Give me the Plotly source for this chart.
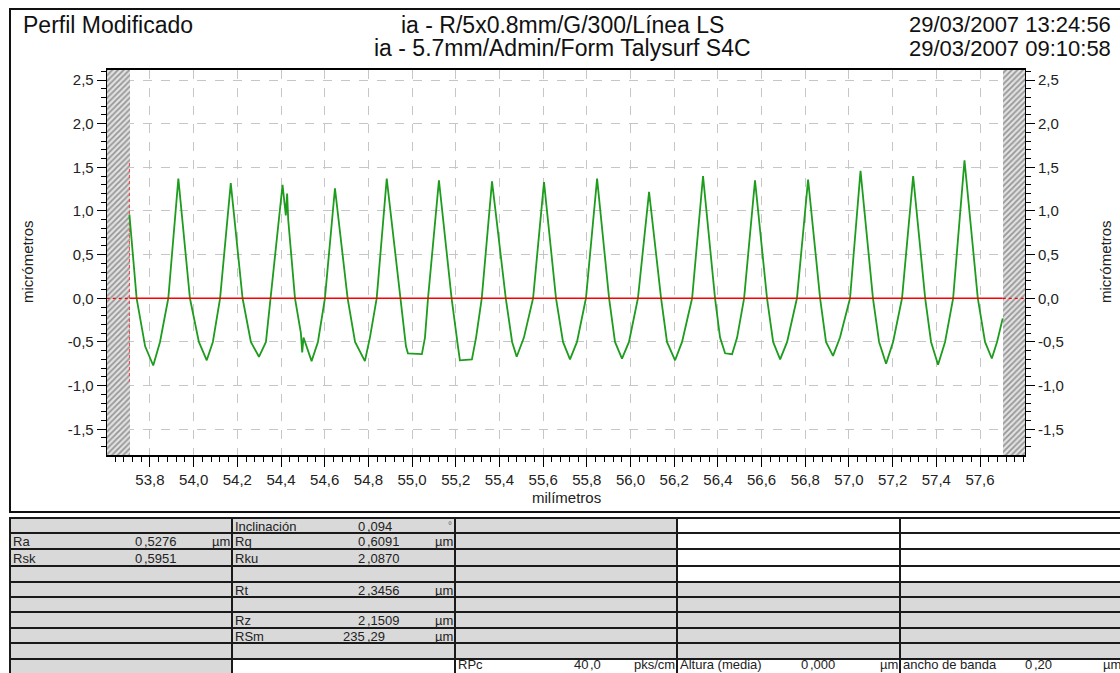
import plotly.graph_objects as go

W, H = 1120, 673

# ---------------- data ----------------
PROFILE_X_MM = [
    53.706, 53.739, 53.778, 53.815, 53.846, 53.884,
    53.930, 53.983, 54.024, 54.060, 54.088, 54.121,
    54.170, 54.224, 54.262, 54.299, 54.331, 54.353,
    54.407, 54.422, 54.428, 54.433, 54.464, 54.491, 54.497, 54.503, 54.540, 54.569, 54.601,
    54.647, 54.705, 54.739, 54.784, 54.807, 54.838,
    54.884, 54.945, 54.972, 54.981, 55.045, 55.059, 55.073,
    55.123, 55.181, 55.210, 55.219, 55.274, 55.293, 55.319,
    55.366, 55.429, 55.458, 55.479, 55.512, 55.554,
    55.604, 55.659, 55.691, 55.723, 55.755, 55.796,
    55.847, 55.902, 55.929, 55.961, 55.993, 56.034,
    56.085, 56.140, 56.167, 56.204, 56.236, 56.282,
    56.332, 56.387, 56.410, 56.433, 56.465, 56.488, 56.520,
    56.570, 56.625, 56.653, 56.685, 56.717, 56.762,
    56.813, 56.868, 56.895, 56.927, 56.959, 57.005,
    57.053, 57.110, 57.138, 57.170, 57.202, 57.243,
    57.294, 57.349, 57.376, 57.408, 57.440, 57.477,
    57.529, 57.590, 57.623, 57.654, 57.678, 57.704,
]
PROFILE_Z_UM = [
    0.96, 0.00, -0.55, -0.77, -0.50, 0.00,
    1.37, 0.00, -0.50, -0.71, -0.50, 0.00,
    1.32, 0.00, -0.50, -0.67, -0.50, 0.00,
    1.30, 0.95, 1.20, 0.90, 0.00, -0.40, -0.62, -0.45, -0.72, -0.50, 0.00,
    1.26, 0.00, -0.50, -0.72, -0.45, 0.00,
    1.37, 0.00, -0.55, -0.63, -0.64, -0.45, 0.00,
    1.35, 0.00, -0.55, -0.71, -0.70, -0.45, 0.00,
    1.34, 0.00, -0.50, -0.67, -0.45, 0.00,
    1.33, 0.00, -0.50, -0.70, -0.50, 0.00,
    1.37, 0.00, -0.50, -0.69, -0.50, 0.00,
    1.22, 0.00, -0.50, -0.71, -0.50, 0.00,
    1.40, 0.00, -0.45, -0.63, -0.64, -0.45, 0.00,
    1.35, 0.00, -0.50, -0.70, -0.50, 0.00,
    1.36, 0.00, -0.50, -0.66, -0.45, 0.00,
    1.46, 0.00, -0.50, -0.75, -0.50, 0.00,
    1.40, 0.00, -0.50, -0.76, -0.50, 0.00,
    1.58, 0.00, -0.50, -0.69, -0.50, -0.23,
]

EVAL_START_MM = 53.706
EVAL_END_MM = 57.704
VIEW_START_MM = 53.602
VIEW_END_MM = 57.806
MEAN_LINE_UM = 0.0
Z_MIN, Z_MAX = -1.795, 2.615
MARKER_TOP_UM, MARKER_BOTTOM_UM = 1.55, -0.95

X_TICKS = [53.8, 54.0, 54.2, 54.4, 54.6, 54.8, 55.0, 55.2, 55.4, 55.6,
           55.8, 56.0, 56.2, 56.4, 56.6, 56.8, 57.0, 57.2, 57.4, 57.6]
X_TICK_LABELS = ["53,8", "54,0", "54,2", "54,4", "54,6", "54,8", "55,0", "55,2", "55,4", "55,6",
                 "55,8", "56,0", "56,2", "56,4", "56,6", "56,8", "57,0", "57,2", "57,4", "57,6"]
Y_TICKS = [-1.5, -1.0, -0.5, 0.0, 0.5, 1.0, 1.5, 2.0, 2.5]
Y_TICK_LABELS = ["-1,5", "-1,0", "-0,5", "0,0", "0,5", "1,0", "1,5", "2,0", "2,5"]

TITLE_LEFT = "Perfil Modificado"
TITLE_MID = ["ia - R/5x0.8mm/G/300/Línea LS", "ia - 5.7mm/Admin/Form Talysurf S4C"]
TITLE_DATES = ["29/03/2007 13:24:56", "29/03/2007 09:10:58"]

PARAM_NAMES = ["Inclinación", "Ra", "Rq", "Rsk", "Rku", "Rt", "Rz", "RSm",
               "RPc", "Altura (media)", "ancho de banda"]
PARAM_VALUES = ["0,094", "0,5276", "0,6091", "0,5951", "2,0870", "2,3456", "2,1509", "235,29",
                "40,0", "0,000", "0,20"]
PARAM_UNITS = ["°", "µm", "µm", "", "", "µm", "µm", "µm", "pks/cm", "µm", "µm"]
PARAM_COL = [1, 0, 1, 0, 1, 1, 1, 1, 2, 3, 4]
PARAM_ROW = [0, 1, 1, 2, 2, 4, 6, 7, 9, 9, 9]

# ---------------- layout geometry (pixels) ----------------
FONT = "Liberation Sans, Arial, sans-serif"
TXT = "#222222"
GRAY = "#d9d9d9"
PLOT_L, PLOT_R, PLOT_T, PLOT_B = 106.7, 1025.0, 70.0, 455.0
COL_X = [10, 232, 455, 677, 900, 1123]
ROW_Y = [518, 533, 549, 566, 582, 597, 612, 628, 643, 659, 676]
COMMA_X = [143, 366, 589, 809, 1033]


def fx(px):
    return px / W


def fy(py):
    return 1 - py / H


def cell_gray(c, r):
    if c == 0:
        return True
    if c in (1, 2):
        return r <= 8
    return 4 <= r <= 8


fig = go.Figure()

# hatched (non-evaluated) zones
hatch_h = Z_MAX - Z_MIN
fig.add_trace(go.Bar(
    x=[(VIEW_START_MM + EVAL_START_MM) / 2, (EVAL_END_MM + VIEW_END_MM) / 2],
    y=[hatch_h, hatch_h], base=[Z_MIN, Z_MIN],
    width=[EVAL_START_MM - VIEW_START_MM, VIEW_END_MM - EVAL_END_MM],
    marker=dict(color="#e2e2e2", line=dict(width=0),
                pattern=dict(shape="/", fgcolor="#4a4a4a", bgcolor="#e2e2e2", size=4, solidity=0.45)),
    hoverinfo="skip", showlegend=False,
))

# mean line
fig.add_trace(go.Scatter(
    x=[EVAL_START_MM, EVAL_END_MM], y=[MEAN_LINE_UM, MEAN_LINE_UM], mode="lines",
    line=dict(color="#ff0000", width=1.6), hoverinfo="skip", showlegend=False, yaxis="y2",
))
fig.add_trace(go.Scatter(
    x=[VIEW_START_MM, EVAL_START_MM, None, EVAL_END_MM, VIEW_END_MM],
    y=[MEAN_LINE_UM, MEAN_LINE_UM, None, MEAN_LINE_UM, MEAN_LINE_UM], mode="lines",
    line=dict(color="#ff0000", width=1.2, dash="dot"), hoverinfo="skip", showlegend=False,
))
fig.add_trace(go.Scatter(
    x=[EVAL_START_MM, EVAL_START_MM], y=[MARKER_TOP_UM, MARKER_BOTTOM_UM], mode="lines",
    line=dict(color="#ff4040", width=1, dash="dot"), hoverinfo="skip", showlegend=False,
))

# profile
fig.add_trace(go.Scatter(
    x=PROFILE_X_MM, y=PROFILE_Z_UM, mode="lines",
    line=dict(color="#1d9c1d", width=1.8), showlegend=False,
))

axis_font = dict(family=FONT, size=15, color=TXT)

fig.update_layout(
    width=W, height=H, margin=dict(l=0, r=0, t=0, b=0),
    paper_bgcolor="white", plot_bgcolor="white", showlegend=False,
    font=dict(family=FONT, color=TXT),
    bargap=0,
    xaxis=dict(
        domain=[fx(PLOT_L), fx(PLOT_R)], range=[VIEW_START_MM, VIEW_END_MM],
        tickmode="array", tickvals=X_TICKS, ticktext=X_TICK_LABELS, tickfont=axis_font,
        ticks="outside", ticklen=10, tickwidth=1, tickcolor="black",
        showline=True, linecolor="black", linewidth=1.5, mirror=True,
        showgrid=True, gridcolor="#c6c6c6", griddash="dash", gridwidth=1, zeroline=False,
        minor=dict(tickmode="linear", tick0=53.8, dtick=0.04, ticks="outside",
                   ticklen=5, tickcolor="black", showgrid=False),
        anchor="y",
    ),
    yaxis=dict(
        domain=[fy(PLOT_B), fy(PLOT_T)], range=[Z_MIN, Z_MAX],
        tickmode="array", tickvals=Y_TICKS, ticktext=Y_TICK_LABELS, tickfont=axis_font,
        ticks="outside", ticklen=9, tickwidth=1, tickcolor="black",
        showline=True, linecolor="black", linewidth=1,
        showgrid=True, gridcolor="#c6c6c6", griddash="dash", gridwidth=1, zeroline=False,
        minor=dict(tickmode="linear", tick0=0, dtick=0.1, ticks="outside",
                   ticklen=5, tickcolor="black", showgrid=False),
        anchor="x",
    ),
    yaxis2=dict(
        overlaying="y", side="right", anchor="x", range=[Z_MIN, Z_MAX],
        tickmode="array", tickvals=Y_TICKS, ticktext=Y_TICK_LABELS, tickfont=axis_font,
        ticks="outside", ticklen=9, tickwidth=1, tickcolor="black",
        showline=True, linecolor="black", linewidth=1, showgrid=False, zeroline=False,
        minor=dict(tickmode="linear", tick0=0, dtick=0.1, ticks="outside",
                   ticklen=5, tickcolor="black", showgrid=False),
    ),
)

ann = []
shapes = []

# header
hdr = dict(family=FONT, size=22, color="#111111")
ann.append(dict(text=TITLE_LEFT, x=fx(22), y=fy(25), xanchor="left", yanchor="middle",
                font=dict(family=FONT, size=23, color="#111111")))
for i, (t, d) in enumerate(zip(TITLE_MID, TITLE_DATES)):
    yy = fy(25 + 23.5 * i)
    ann.append(dict(text=t, x=fx(562), y=yy, xanchor="center", yanchor="middle",
                    font=dict(family=FONT, size=23, color="#111111")))
    ann.append(dict(text=d, x=fx(1112), y=yy, xanchor="right", yanchor="middle", font=hdr))

# axis titles
at = dict(family=FONT, size=15, color=TXT)
ann.append(dict(text="micrómetros", x=fx(28), y=fy(262), textangle=-90, xanchor="center",
                yanchor="middle", font=at))
ann.append(dict(text="micrómetros", x=fx(1106), y=fy(262), textangle=-90, xanchor="center",
                yanchor="middle", font=at))
ann.append(dict(text="milímetros", x=fx(566), y=fy(497), xanchor="center", yanchor="middle", font=at))

# outer frame of chart
shapes.append(dict(type="rect", xref="paper", yref="paper", x0=fx(10), x1=fx(1135),
                   y0=fy(9), y1=fy(512), line=dict(color="#111111", width=2), layer="below"))

# table cells
for c in range(5):
    for r in range(10):
        shapes.append(dict(type="rect", xref="paper", yref="paper",
                           x0=fx(COL_X[c]), x1=fx(COL_X[c + 1]),
                           y0=fy(ROW_Y[r]), y1=fy(ROW_Y[r + 1]),
                           fillcolor=GRAY if cell_gray(c, r) else "white",
                           line=dict(color="#1a1a1a", width=2), layer="below"))

tf = dict(family=FONT, size=13, color=TXT)
for name, val, unit, c, r in zip(PARAM_NAMES, PARAM_VALUES, PARAM_UNITS, PARAM_COL, PARAM_ROW):
    yc_px = (ROW_Y[r] + ROW_Y[r + 1]) / 2 + 0.5
    if r == 9:
        yc_px = 664.5
    yc = fy(yc_px)
    ann.append(dict(text=name, x=fx(COL_X[c] + 2), y=yc, xanchor="left", yanchor="middle", font=tf))
    ip, fp = val.split(",")
    ann.append(dict(text=ip, x=fx(COMMA_X[c]), y=yc, xanchor="right", yanchor="middle", font=tf))
    ann.append(dict(text="," + fp, x=fx(COMMA_X[c]), y=yc, xanchor="left", yanchor="middle", font=tf))
    if unit == "°":
        ann.append(dict(text=unit, x=fx(COL_X[c + 1] - 2), y=fy(ROW_Y[r] + 1), xanchor="right",
                        yanchor="top", font=dict(family=FONT, size=10, color="#666666")))
    elif unit:
        ann.append(dict(text=unit, x=fx(COL_X[c + 1] - 1), y=yc, xanchor="right", yanchor="middle",
                        font=tf))

for a in ann:
    a.setdefault("xref", "paper")
    a.setdefault("yref", "paper")
    a["showarrow"] = False
    a.setdefault("borderpad", 0)

fig.update_layout(annotations=ann, shapes=shapes)

fig.write_html(
    "out.html",
    config={"displayModeBar": False},
    post_script="document.body.style.margin='0';document.body.style.padding='0';"
                "document.documentElement.style.overflow='hidden';",
)
